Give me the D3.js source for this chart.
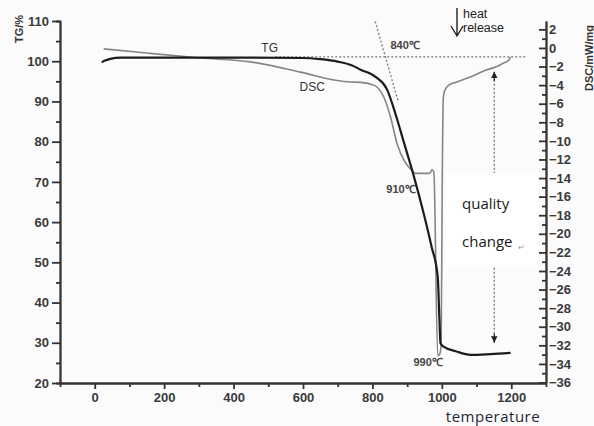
<!DOCTYPE html>
<html lang="en">
<head>
<meta charset="UTF-8">
<title>TG / DSC</title>
<style>
  body { margin: 0; background: #fbfbfb; }
  svg { display: block; font-family: "Liberation Sans", Arial, sans-serif; }
  .axis path, .axis line { stroke: #333; stroke-width: 1.8px; }
  .axis text { font-size: 13px; font-weight: bold; fill: #3a3a3a; }
  .tg { fill: none; stroke: #1c1c1c; stroke-width: 2.2px; }
  .dsc { fill: none; stroke: #858585; stroke-width: 1.6px; }
  .guide { fill: none; stroke: #7a7a7a; stroke-width: 1.3px; stroke-dasharray: 2 2; }
  .lbl { font-size: 12px; fill: #333; }
</style>
</head>
<body>
<div id="chart"></div>
<script src="https://d3js.org/d3.v7.min.js"></script>
<script>
// TG curve (temperature, TG %)
const tgTemp = [20, 28, 45, 75, 150, 300, 450, 600, 650, 700, 740, 766, 811, 842, 866, 890, 919, 948, 970, 988, 993, 996, 1006, 1040, 1083, 1140, 1198];
const tgVal  = [99.7, 100.1, 100.6, 100.9, 100.9, 100.9, 100.9, 100.8, 100.5, 99.9, 99.0, 97.9, 96.0, 93.0, 87.0, 80.0, 71.5, 62.0, 54.0, 46.5, 36.0, 29.9, 29.0, 27.9, 27.0, 27.2, 27.5];

// DSC curve (temperature, mW/mg)
const dscTemp = [26, 150, 305, 449, 593, 698, 736, 766, 804, 833, 852, 871, 891, 914, 925, 965, 972, 977, 988, 993, 998, 1001, 1004, 1008, 1020, 1044, 1083, 1126, 1155, 1174, 1193, 1198];
const dscVal  = [-0.1, -0.55, -1.08, -1.5, -2.6, -3.5, -3.66, -3.7, -4.0, -5.3, -7.4, -10.3, -12.1, -13.2, -13.5, -13.5, -13.1, -13.4, -33.1, -33.0, -32.0, -15.0, -5.5, -4.6, -4.0, -3.66, -3.1, -2.4, -2.05, -1.7, -1.3, -0.97];

// axis ticks
const tgTicks = d3.range(20, 111, 10);
const tgMinor = d3.range(25, 110, 10);
const tempTicks = d3.range(0, 1201, 200);
const tempMinor = d3.range(100, 1300, 200);
const dscTicks = d3.range(-36, 3, 2);
const dscMinor = d3.range(-35, 3, 2);

// annotation values
const onsetTG = 101.1;            // horizontal baseline
const onsetLine = [[520, onsetTG], [1240, onsetTG]];
const tangent = [[808, 109.9], [875, 89.8]];
const changeTemp = 1151;
const changeRange = [97.4, 30.0];
const tempLabels = [
  { text: "840\u2103", t: 852, v: 103.0 },
  { text: "910\u2103", t: 840, v: 67.3 },
  { text: "990\u2103", t: 918, v: 24.2 }
];

const width = 594, height = 426;
const svg = d3.select("#chart").append("svg")
  .attr("width", width)
  .attr("height", height);

const x = d3.scaleLinear().domain([-100, 1300]).range([60, 546]);
const yTG = d3.scaleLinear().domain([20, 110]).range([383, 21]);
const yDSC = d3.scaleLinear().domain([-36, 2.9]).range([382.5, 21]);

// axes
svg.append("g").attr("class", "axis")
  .attr("transform", "translate(60,0)")
  .call(d3.axisLeft(yTG).tickValues(tgMinor).tickSize(4).tickFormat(""));
svg.append("g").attr("class", "axis")
  .attr("transform", "translate(60,0)")
  .call(d3.axisLeft(yTG).tickValues(tgTicks).tickSizeInner(8).tickSizeOuter(0).tickPadding(3));

svg.append("g").attr("class", "axis")
  .attr("transform", "translate(0,383)")
  .call(d3.axisBottom(x).tickValues(tempMinor).tickSize(4).tickFormat(""));
svg.append("g").attr("class", "axis")
  .attr("transform", "translate(0,383)")
  .call(d3.axisBottom(x).tickValues(tempTicks).tickFormat(d3.format("d"))
    .tickSizeInner(6).tickSizeOuter(0).tickPadding(4));

svg.append("g").attr("class", "axis")
  .attr("transform", "translate(546,0)")
  .call(d3.axisRight(yDSC).tickValues(dscMinor).tickSizeInner(-4).tickSizeOuter(0).tickFormat(""));
svg.append("g").attr("class", "axis")
  .attr("transform", "translate(546,0)")
  .call(d3.axisRight(yDSC).tickValues(dscTicks).tickSizeInner(-7).tickSizeOuter(0).tickPadding(3));

// axis titles
svg.append("text")
  .attr("transform", "translate(23,29) rotate(-90)")
  .attr("text-anchor", "middle")
  .style("font-size", "11px").style("font-weight", "bold").style("fill", "#333")
  .text("TG/%");
svg.append("text")
  .attr("transform", "translate(593,58) rotate(-90)")
  .attr("text-anchor", "middle")
  .style("font-size", "11px").style("font-weight", "bold").style("fill", "#333")
  .text("DSC/mW/mg");
svg.append("text")
  .attr("x", 493).attr("y", 422)
  .attr("text-anchor", "middle")
  .style("font-family", "'Open Sans', sans-serif").style("font-size", "15px")
  .style("letter-spacing", "0.5px").style("fill", "#1d2633")
  .text("temperature");

// guide lines
const lineTG = d3.line().x(d => x(d[0])).y(d => yTG(d[1]));
svg.append("path").attr("class", "guide").attr("d", lineTG(onsetLine));
svg.append("path").attr("class", "guide").attr("d", lineTG(tangent));

// curves
svg.append("path").attr("class", "dsc")
  .attr("d", d3.line().x((d, i) => x(dscTemp[i])).y(d => yDSC(d)).curve(d3.curveMonotoneX)(dscVal));
svg.append("path").attr("class", "tg")
  .attr("d", d3.line().x((d, i) => x(tgTemp[i])).y(d => yTG(d)).curve(d3.curveMonotoneX)(tgVal));

// quality change arrow
const defs = svg.append("defs");
defs.append("marker").attr("id", "head")
  .attr("viewBox", "0 0 10 10").attr("refX", 10).attr("refY", 5)
  .attr("markerWidth", 5).attr("markerHeight", 5).attr("orient", "auto")
  .append("path").attr("d", "M0,0L10,5L0,10Z").attr("fill", "#222");
svg.append("line").attr("class", "guide")
  .attr("x1", x(changeTemp)).attr("x2", x(changeTemp))
  .attr("y1", yTG(changeRange[0]) + 8).attr("y2", yTG(changeRange[1]) - 8);
svg.append("line")
  .attr("x1", x(changeTemp)).attr("x2", x(changeTemp))
  .attr("y1", yTG(changeRange[0]) + 9).attr("y2", yTG(changeRange[0]))
  .attr("stroke", "#222").attr("stroke-width", 1.3).attr("marker-end", "url(#head)");
svg.append("line")
  .attr("x1", x(changeTemp)).attr("x2", x(changeTemp))
  .attr("y1", yTG(changeRange[1]) - 9).attr("y2", yTG(changeRange[1]))
  .attr("stroke", "#222").attr("stroke-width", 1.3).attr("marker-end", "url(#head)");

// white box with label
svg.append("rect")
  .attr("x", 446).attr("y", 173).attr("width", 92).attr("height", 94)
  .attr("fill", "#ffffff");
svg.append("text")
  .attr("x", 462).attr("y", 209)
  .style("font-family", "'Open Sans', sans-serif").style("font-size", "15px").style("fill", "#1a1a1a")
  .text("quality");
svg.append("text")
  .attr("x", 462).attr("y", 247)
  .style("font-family", "'Open Sans', sans-serif").style("font-size", "15px").style("fill", "#1a1a1a")
  .text("change");
svg.append("text")
  .attr("x", 518).attr("y", 250)
  .style("font-size", "8px").style("fill", "#999")
  .text("\u21b5");

// curve labels
svg.append("text").attr("class", "lbl").attr("x", x(480)).attr("y", yTG(102.2)).text("TG");
svg.append("text").attr("class", "lbl").attr("x", x(590)).attr("y", yDSC(-4.6)).text("DSC");
svg.selectAll(".tlbl").data(tempLabels).enter().append("text")
  .attr("class", "lbl")
  .attr("x", d => x(d.t)).attr("y", d => yTG(d.v))
  .style("font-size", "11px").style("font-weight", "bold").style("fill", "#444")
  .text(d => d.text);

// heat release marker
const hr = svg.append("g");
hr.append("path")
  .attr("d", "M457,8L457,36M451,26L457,36L463,26")
  .attr("fill", "none").attr("stroke", "#222").attr("stroke-width", 1.4);
hr.append("text").attr("x", 463).attr("y", 18)
  .style("font-size", "12.5px").style("fill", "#222").text("heat");
hr.append("text").attr("x", 463).attr("y", 32)
  .style("font-size", "12.5px").style("fill", "#222").text("release");
</script>
</body>
</html>
